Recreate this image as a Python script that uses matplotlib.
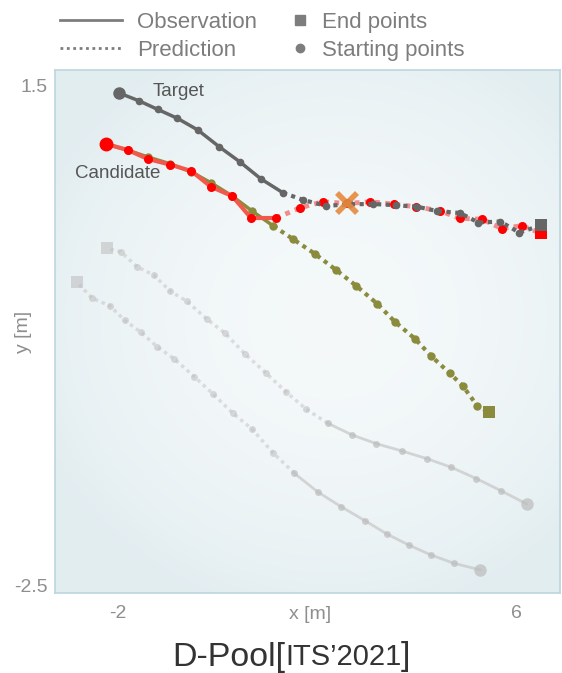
import numpy as np
import matplotlib
matplotlib.use("Agg")
import matplotlib.pyplot as plt
from matplotlib.lines import Line2D

plt.rcParams['font.family'] = ['Liberation Sans', 'DejaVu Sans']

# target agent: observed history and predicted future
target_obs_x = [-1.98, -1.59, -1.21, -0.81, -0.40, 0.03, 0.45, 0.87, 1.31]
target_obs_y = [1.436, 1.375, 1.306, 1.234, 1.141, 1.007, 0.885, 0.750, 0.640]
target_pred_x = [1.72, 2.18, 2.66, 3.13, 3.59, 4.01, 4.41, 4.87, 5.24, 5.68, 6.06, 6.50]
target_pred_y = [0.582, 0.535, 0.548, 0.550, 0.540, 0.528, 0.494, 0.478, 0.402, 0.410, 0.322, 0.380]

# candidate agent, original trajectory (olive)
cand_obs_x = [-2.24, -1.81, -1.40, -0.95, -0.53, -0.13, 0.29, 0.69, 1.12]
cand_obs_y = [1.029, 0.980, 0.925, 0.870, 0.806, 0.718, 0.614, 0.494, 0.374]
cand_pred_x = [1.52, 1.95, 2.38, 2.78, 3.21, 3.56, 3.97, 4.29, 4.66, 4.92, 5.22, 5.46]
cand_pred_y = [0.268, 0.153, 0.023, -0.102, -0.248, -0.390, -0.528, -0.664, -0.800, -0.900, -1.063, -1.110]

# candidate agent, perturbed trajectory (red)
adv_obs_x = [-2.24, -1.81, -1.40, -0.95, -0.53, -0.13, 0.29, 0.67, 1.17]
adv_obs_y = [1.029, 0.981, 0.909, 0.864, 0.813, 0.686, 0.614, 0.438, 0.438]
adv_pred_x = [1.66, 2.11, 2.60, 3.07, 3.55, 3.98, 4.46, 4.86, 5.32, 5.71, 6.11, 6.50]
adv_pred_y = [0.520, 0.568, 0.554, 0.568, 0.548, 0.528, 0.496, 0.436, 0.428, 0.353, 0.377, 0.316]

# collision point
hit_x, hit_y = 2.60, 0.554

# surrounding agents
other1_obs_x = [6.21, 5.69, 5.20, 4.69, 4.21, 3.70, 3.19, 2.70, 2.21]
other1_obs_y = [-1.845, -1.739, -1.643, -1.552, -1.484, -1.422, -1.364, -1.294, -1.200]
other1_pred_x = [1.78, 1.38, 0.97, 0.55, 0.15, -0.22, -0.62, -0.95, -1.29, -1.62, -1.95, -2.23]
other1_pred_y = [-1.089, -0.953, -0.800, -0.648, -0.483, -0.368, -0.227, -0.147, -0.017, 0.049, 0.169, 0.196]

other2_obs_x = [5.28, 4.75, 4.29, 3.85, 3.40, 2.96, 2.48, 2.01, 1.54]
other2_obs_y = [-2.372, -2.319, -2.253, -2.175, -2.085, -1.979, -1.867, -1.749, -1.600]
other2_pred_x = [1.11, 0.69, 0.30, -0.10, -0.47, -0.87, -1.22, -1.54, -1.87, -2.17, -2.52, -2.83]
other2_pred_y = [-1.436, -1.247, -1.119, -0.965, -0.829, -0.688, -0.589, -0.475, -0.379, -0.262, -0.203, -0.075]

xlim = (-3.27, 6.88)
ylim = (-2.556, 1.62)
xticks = [-2, 6]
yticks = [1.5, -2.5]

DOTS = (0, (1.0, 1.1))


def draw_traj(ax, ox, oy, px, py, line_c, dot_c, lw=2.5, ms=5, start_ms=9, end_ms=8,
              alpha=1.0, z=3, pred_line_c=None, pred_alpha=None):
    pred_line_c = pred_line_c or line_c
    pred_alpha = alpha if pred_alpha is None else pred_alpha
    ax.plot(ox, oy, '-', color=line_c, lw=lw, alpha=alpha, zorder=z, solid_capstyle='round')
    ax.plot([ox[-1]] + px, [oy[-1]] + py, linestyle=DOTS, color=pred_line_c, lw=lw + 0.5,
            alpha=pred_alpha, zorder=z)
    ax.plot(ox[1:], oy[1:], 'o', color=dot_c, ms=ms, mew=0, alpha=alpha, zorder=z + 0.1)
    ax.plot(px[:-1], py[:-1], 'o', color=dot_c, ms=ms, mew=0, alpha=pred_alpha, zorder=z + 0.1)
    ax.plot(ox[0], oy[0], 'o', color=dot_c, ms=start_ms, mew=0, alpha=alpha, zorder=z + 0.2)
    ax.plot(px[-1], py[-1], 's', color=dot_c, ms=end_ms, mew=0, alpha=pred_alpha, zorder=z + 0.2)


fig = plt.figure(figsize=(5.62, 6.73), dpi=100)
ax = fig.add_axes([0.0979, 0.1189, 0.8986, 0.7771])

# soft radial background
gx, gy = np.meshgrid(np.linspace(-1, 1, 300), np.linspace(-1, 1, 300))
r = np.clip(np.sqrt(((gx - 0.1) / 1.25) ** 2 + ((gy + 0.05) / 1.15) ** 2), 0, 1)
c_in = np.array([0.958, 0.975, 0.98])
c_out = np.array([0.89, 0.932, 0.945])
bg = c_in[None, None, :] + (c_out - c_in)[None, None, :] * (r ** 2.2)[..., None]
ax.imshow(bg, extent=(*xlim, *ylim), aspect='auto', zorder=0, interpolation='bilinear')

draw_traj(ax, other1_obs_x, other1_obs_y, other1_pred_x, other1_pred_y,
          '#c6c6c6', '#bcbcbc', lw=2, ms=5, alpha=0.7, pred_alpha=0.55, z=2)
draw_traj(ax, other2_obs_x, other2_obs_y, other2_pred_x, other2_pred_y,
          '#c6c6c6', '#bcbcbc', lw=2, ms=5, alpha=0.7, pred_alpha=0.55, z=2)
draw_traj(ax, cand_obs_x, cand_obs_y, cand_pred_x, cand_pred_y,
          '#8a8b3d', '#8a8b3d', lw=2.5, ms=6, z=3)
draw_traj(ax, adv_obs_x, adv_obs_y, adv_pred_x, adv_pred_y,
          (0.95, 0.35, 0.3, 0.7), '#ff0000', lw=3, ms=6.5, start_ms=10, end_ms=8.5, z=4,
          pred_line_c=(0.95, 0.55, 0.55, 0.8))
draw_traj(ax, target_obs_x, target_obs_y, target_pred_x, target_pred_y,
          '#666666', '#666666', lw=2.5, ms=5.5, z=5)

ax.plot(hit_x, hit_y, 'x', color='#e5893c', ms=14, mew=4, alpha=0.9, zorder=7)

ax.text(-0.79, 1.452, 'Target', fontsize=13.5, color='#555555', ha='center', va='center', zorder=8)
ax.text(-2.02, 0.797, 'Candidate', fontsize=13.5, color='#555555', ha='center', va='center', zorder=8)

ax.set_xlim(*xlim)
ax.set_ylim(*ylim)
ax.set_xticks(xticks)
ax.set_yticks(yticks)
ax.set_xticklabels(['-2', '6'])
ax.set_yticklabels(['1.5', '-2.5'])
ax.tick_params(length=0, labelsize=14, labelcolor='#8e8e8e')
ax.tick_params(axis='x', pad=9)
ax.tick_params(axis='y', pad=5)
for sp in ax.spines.values():
    sp.set_color('#bcd6df')
    sp.set_linewidth(1.2)
ax.set_xlabel('x [m]', fontsize=14, color='#8e8e8e')
ax.set_ylabel('y [m]', fontsize=14, color='#8e8e8e')
ax.xaxis.set_label_coords(0.505, -0.025)
ax.yaxis.set_label_coords(-0.045, 0.5)

# legend, two blocks above the axes
leg_c = '#7d7d7d'
line_handles = [Line2D([], [], color=leg_c, lw=2),
                Line2D([], [], color=leg_c, lw=2, linestyle=(0, (1, 1.3)))]
fig.legend(line_handles, ['Observation', 'Prediction'], loc='upper left',
           bbox_to_anchor=(60 / 562, 1 - 12 / 673), frameon=False, borderpad=0,
           borderaxespad=0, handlelength=2.8, handletextpad=0.68, labelspacing=0.3,
           prop={'size': 16}, labelcolor=leg_c)
mark_handles = [Line2D([], [], color=leg_c, marker='s', ls='', ms=7),
                Line2D([], [], color=leg_c, marker='o', ls='', ms=6)]
fig.legend(mark_handles, ['End points', 'Starting points'], loc='upper left',
           bbox_to_anchor=(293 / 562, 1 - 12 / 673), frameon=False, borderpad=0,
           borderaxespad=0, handlelength=0.6, handletextpad=0.72, labelspacing=0.3,
           prop={'size': 16}, labelcolor=leg_c)

# title with smaller venue tag
t1 = fig.text(0.306, 0.011, 'D-Pool[', fontsize=24.5, color='#333333', va='baseline')
t2 = ax.annotate('ITS\u20192021', xy=(1, 0), xycoords=t1, xytext=(0, 24.5 * 0.212),
                 textcoords='offset points', fontsize=21, color='#333333',
                 va='baseline', annotation_clip=False)
t3 = ax.annotate(']', xy=(1, 0), xycoords=t2, xytext=(0, 21 * 0.212),
                 textcoords='offset points', fontsize=24.5, color='#333333',
                 va='baseline', annotation_clip=False)

fig.savefig('out.png', dpi=100)
